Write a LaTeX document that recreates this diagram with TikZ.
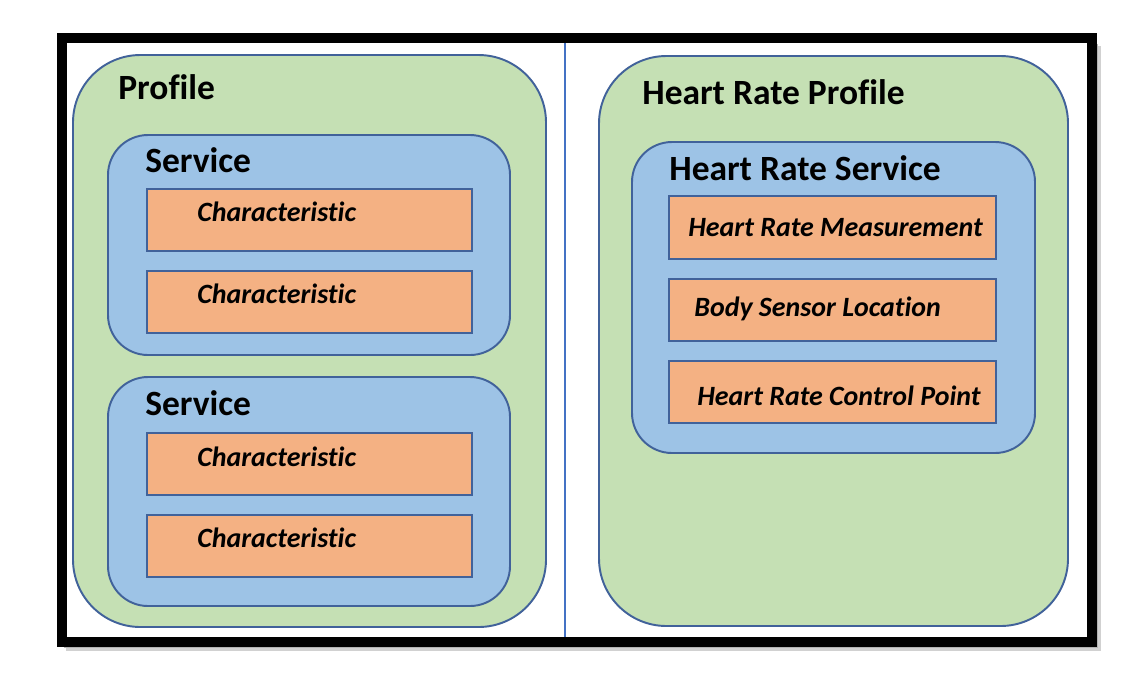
\documentclass[tikz,border=0pt]{standalone}
\usepackage{fontspec}
\setmainfont{Carlito}[Ligatures=NoCommon]
\usetikzlibrary{fit}
\definecolor{pgreen}{HTML}{C5E0B4}
\definecolor{sblue}{HTML}{9DC3E6}
\definecolor{corange}{HTML}{F4B183}
\definecolor{edgeblue}{HTML}{41629A}
\definecolor{divblue}{HTML}{4472C4}
\tikzset{
  profbox/.style={draw=edgeblue, line width=1.1pt, fill=pgreen, rounded corners=1.35cm, inner sep=0pt},
  servbox/.style={draw=edgeblue, line width=1.1pt, fill=sblue, rounded corners=0.8cm, inner sep=0pt},
  charbox/.style={draw=edgeblue, line width=1pt, fill=corange, inner sep=0pt},
  bigtitle/.style={anchor=west, inner sep=0pt, font=\bfseries\fontsize{20.2}{22}\selectfont},
  chartext/.style={anchor=west, inner sep=0pt, font=\bfseries\itshape\fontsize{15.9}{18}\selectfont},
}
\begin{document}
\begin{tikzpicture}[x=0.02cm,y=-0.02cm]
\useasboundingbox (0,0) rectangle (1148,684);
\fill[white] (0,0) rectangle (1148,684);
% shadow of frame
\fill[black!18] (66,46) rectangle (1101,651);
\fill[black!30] (64,44) rectangle (1098,648);
% frame
\node[draw=black, line width=5.6pt, fill=white, inner sep=0pt, fit={(62,38) (1092,642)}] (frame) {};
\coordinate (dtop) at (565,43);
\coordinate (dbot) at (565,637);
\draw[divblue, line width=0.8pt] (dtop) -- (dbot);

% Left profile
\node[profbox, fit={(73,55) (546,627)}] (prof) {};
\node[bigtitle] (proft) at (118,87) {Profile};
\node[servbox, fit={(108,135) (510,355)}] (s1) {};
\node[bigtitle] (s1t) at (145,160) {Service};
\node[charbox, fit={(147,189) (472,251)}] (c1) {};
\node[chartext] (c1t) at (197,212) {Characteristic};
\node[charbox, fit={(147,271) (472,333)}] (c2) {};
\node[chartext] (c2t) at (197,294) {Characteristic};
\node[servbox, fit={(108,377) (510,606)}] (s2) {};
\node[bigtitle] (s2t) at (145,403) {Service};
\node[charbox, fit={(147,433) (472,495)}] (c3) {};
\node[chartext] (c3t) at (197,457) {Characteristic};
\node[charbox, fit={(147,515) (472,577)}] (c4) {};
\node[chartext] (c4t) at (197,538) {Characteristic};

% Right profile
\node[profbox, fit={(599,56) (1068,626)}] (hrp) {};
\node[bigtitle] (hrpt) at (642,92) {Heart Rate Profile};
\node[servbox, fit={(632,142) (1035,453)}] (hrs) {};
\node[bigtitle] (hrst) at (669,168) {Heart Rate Service};
\node[charbox, fit={(669,196) (996,259)}] (h1) {};
\node[chartext] (h1t) at (688,228) {Heart Rate Measurement};
\node[charbox, fit={(669,279) (996,341)}] (h2) {};
\node[chartext] (h2t) at (694,309) {Body Sensor Location};
\node[charbox, fit={(669,361) (996,423)}] (h3) {};
\node[chartext] (h3t) at (697,396) {Heart Rate Control Point};
\end{tikzpicture}
\end{document}
